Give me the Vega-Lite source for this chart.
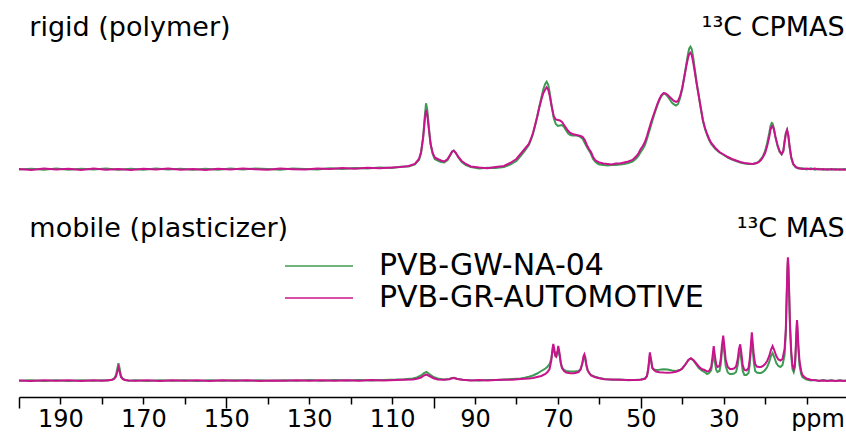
{
"$schema": "https://vega.github.io/schema/vega-lite/v6.json",
"padding": {"left": 15, "right": 2, "top": 0, "bottom": 0},
"background": "white",
"config": {"view": {"stroke": null}, "font": "DejaVu Sans", "concat": {"spacing": 10},
  "legend": {"symbolType": "M-5,0H5", "symbolSize": 185, "symbolStrokeWidth": 1.6, "labelFontSize": 30, "labelFont": "DejaVu Sans", "labelColor": "black", "labelOffset": 45, "rowPadding": 2, "padding": 0, "labelLimit": 500}},
"resolve": {"scale": {"x": "shared", "y": "independent", "color": "shared"}},
"datasets": {
"cp": [
{"s":"g","p":200,"i":0.5},{"s":"g","p":197,"i":1.2},{"s":"g","p":194,"i":0.3},{"s":"g","p":191,"i":1.4},{"s":"g","p":188,"i":0.2},{"s":"g","p":185,"i":1.2},{"s":"g","p":182,"i":0.4},{"s":"g","p":179,"i":1.5},{"s":"g","p":176,"i":0.2},{"s":"g","p":173,"i":1.3},{"s":"g","p":170,"i":0.3},{"s":"g","p":167,"i":1.4},{"s":"g","p":164,"i":0.4},{"s":"g","p":161,"i":1.3},{"s":"g","p":158,"i":0.2},{"s":"g","p":155,"i":1.2},{"s":"g","p":152,"i":0.3},{"s":"g","p":149,"i":1.5},{"s":"g","p":146,"i":0.4},{"s":"g","p":143,"i":1.4},{"s":"g","p":140,"i":1},{"s":"g","p":137,"i":0.3},{"s":"g","p":134,"i":1.5},{"s":"g","p":131,"i":1},{"s":"g","p":128,"i":0.4},{"s":"g","p":125,"i":1.8},{"s":"g","p":122,"i":1},{"s":"g","p":119,"i":2},{"s":"g","p":116,"i":1.4},{"s":"g","p":113,"i":2.5},{"s":"g","p":110,"i":2},{"s":"g","p":108,"i":3.2},{"s":"g","p":106,"i":3.5},{"s":"g","p":104.5,"i":5.5},{"s":"g","p":103.5,"i":10},{"s":"g","p":103,"i":17},{"s":"g","p":102.5,"i":33},{"s":"g","p":102.1,"i":54},{"s":"g","p":101.8,"i":66.7},{"s":"g","p":101.5,"i":60},{"s":"g","p":101.1,"i":42},{"s":"g","p":100.7,"i":26},{"s":"g","p":100.2,"i":16},{"s":"g","p":99.7,"i":11},{"s":"g","p":99,"i":9.5},{"s":"g","p":98.2,"i":8},{"s":"g","p":97.4,"i":7.5},{"s":"g","p":96.6,"i":10},{"s":"g","p":96,"i":14.5},{"s":"g","p":95.5,"i":18.5},{"s":"g","p":95.1,"i":19.5},{"s":"g","p":94.6,"i":17},{"s":"g","p":94,"i":12.5},{"s":"g","p":93.2,"i":8},{"s":"g","p":92.2,"i":5},{"s":"g","p":91,"i":3},{"s":"g","p":89,"i":1.5},{"s":"g","p":87,"i":2.2},{"s":"g","p":85,"i":2},{"s":"g","p":83,"i":3},{"s":"g","p":81.5,"i":5.5},{"s":"g","p":80,"i":9},{"s":"g","p":79,"i":14},{"s":"g","p":78,"i":19},{"s":"g","p":77,"i":25},{"s":"g","p":76.5,"i":30},{"s":"g","p":76,"i":36},{"s":"g","p":75.5,"i":44},{"s":"g","p":75,"i":53},{"s":"g","p":74.5,"i":63},{"s":"g","p":74,"i":72},{"s":"g","p":73.5,"i":81},{"s":"g","p":73,"i":86.5},{"s":"g","p":72.7,"i":88.3},{"s":"g","p":72.3,"i":85},{"s":"g","p":72,"i":78},{"s":"g","p":71.5,"i":64},{"s":"g","p":71,"i":52},{"s":"g","p":70.5,"i":46},{"s":"g","p":70,"i":44},{"s":"g","p":69.5,"i":44.5},{"s":"g","p":69,"i":45},{"s":"g","p":68.5,"i":43},{"s":"g","p":68,"i":39.5},{"s":"g","p":67.5,"i":36.5},{"s":"g","p":67,"i":35},{"s":"g","p":66.5,"i":34.5},{"s":"g","p":66,"i":34.5},{"s":"g","p":65.5,"i":34.5},{"s":"g","p":65,"i":34},{"s":"g","p":64.5,"i":33},{"s":"g","p":64,"i":31},{"s":"g","p":63.5,"i":27},{"s":"g","p":63,"i":23},{"s":"g","p":62.5,"i":19.5},{"s":"g","p":62,"i":16},{"s":"g","p":61.5,"i":11},{"s":"g","p":61,"i":8.5},{"s":"g","p":60.5,"i":6.5},{"s":"g","p":60,"i":5.5},{"s":"g","p":59,"i":5},{"s":"g","p":58,"i":4.5},{"s":"g","p":57,"i":5},{"s":"g","p":56,"i":5},{"s":"g","p":55,"i":5.5},{"s":"g","p":54,"i":6},{"s":"g","p":53,"i":7},{"s":"g","p":52,"i":8.5},{"s":"g","p":51.5,"i":10},{"s":"g","p":51,"i":12},{"s":"g","p":50.5,"i":14.5},{"s":"g","p":50,"i":18},{"s":"g","p":49.5,"i":21},{"s":"g","p":49,"i":25},{"s":"g","p":48.5,"i":31},{"s":"g","p":48,"i":38},{"s":"g","p":47.5,"i":45},{"s":"g","p":47,"i":52},{"s":"g","p":46.5,"i":58.5},{"s":"g","p":46,"i":64.5},{"s":"g","p":45.5,"i":70},{"s":"g","p":45,"i":74},{"s":"g","p":44.5,"i":76.5},{"s":"g","p":44,"i":76},{"s":"g","p":43.5,"i":73.5},{"s":"g","p":43,"i":70.5},{"s":"g","p":42.5,"i":67.5},{"s":"g","p":42,"i":65.5},{"s":"g","p":41.5,"i":64.5},{"s":"g","p":41,"i":66},{"s":"g","p":40.5,"i":72},{"s":"g","p":40,"i":81},{"s":"g","p":39.5,"i":93},{"s":"g","p":39,"i":106},{"s":"g","p":38.6,"i":116},{"s":"g","p":38.3,"i":121.5},{"s":"g","p":38,"i":123.3},{"s":"g","p":37.7,"i":121},{"s":"g","p":37.4,"i":114},{"s":"g","p":37,"i":102},{"s":"g","p":36.5,"i":87},{"s":"g","p":36,"i":74},{"s":"g","p":35.5,"i":61},{"s":"g","p":35,"i":49},{"s":"g","p":34.5,"i":41},{"s":"g","p":34,"i":35},{"s":"g","p":33.5,"i":30},{"s":"g","p":33,"i":26},{"s":"g","p":32,"i":21},{"s":"g","p":31,"i":17.5},{"s":"g","p":30,"i":15},{"s":"g","p":29,"i":12.5},{"s":"g","p":28,"i":10.5},{"s":"g","p":27,"i":9},{"s":"g","p":26,"i":7.5},{"s":"g","p":25,"i":6.5},{"s":"g","p":24,"i":6},{"s":"g","p":23,"i":6},{"s":"g","p":22,"i":7},{"s":"g","p":21.5,"i":8.5},{"s":"g","p":21,"i":11},{"s":"g","p":20.5,"i":14},{"s":"g","p":20,"i":19},{"s":"g","p":19.5,"i":27},{"s":"g","p":19,"i":37},{"s":"g","p":18.7,"i":44},{"s":"g","p":18.4,"i":47},{"s":"g","p":18.2,"i":46.5},{"s":"g","p":17.9,"i":42},{"s":"g","p":17.5,"i":33},{"s":"g","p":17,"i":24},{"s":"g","p":16.5,"i":18},{"s":"g","p":16,"i":15.5},{"s":"g","p":15.6,"i":19},{"s":"g","p":15.3,"i":29},{"s":"g","p":15,"i":37},{"s":"g","p":14.7,"i":40},{"s":"g","p":14.4,"i":34},{"s":"g","p":14.1,"i":23},{"s":"g","p":13.7,"i":12},{"s":"g","p":13.2,"i":5.5},{"s":"g","p":12.6,"i":2.5},{"s":"g","p":12,"i":1.5},{"s":"g","p":11,"i":1.8},{"s":"g","p":10,"i":0.6},{"s":"g","p":9,"i":1.6},{"s":"g","p":8,"i":0.4},{"s":"g","p":7,"i":1.2},{"s":"g","p":6,"i":0.2},{"s":"g","p":5,"i":1},{"s":"g","p":4,"i":0.3},{"s":"g","p":3,"i":1},{"s":"g","p":2,"i":0.2},{"s":"g","p":1,"i":1},{"s":"g","p":0,"i":0.3},
{"s":"m","p":200,"i":1},{"s":"m","p":197,"i":0},{"s":"m","p":194,"i":1.5},{"s":"m","p":191,"i":0.5},{"s":"m","p":188,"i":1.2},{"s":"m","p":185,"i":0},{"s":"m","p":182,"i":1.5},{"s":"m","p":179,"i":0.3},{"s":"m","p":176,"i":1},{"s":"m","p":173,"i":0},{"s":"m","p":170,"i":1.2},{"s":"m","p":167,"i":0.4},{"s":"m","p":164,"i":1.5},{"s":"m","p":161,"i":0.3},{"s":"m","p":158,"i":1},{"s":"m","p":155,"i":0},{"s":"m","p":152,"i":1.2},{"s":"m","p":149,"i":0.5},{"s":"m","p":146,"i":1.5},{"s":"m","p":143,"i":0.8},{"s":"m","p":140,"i":0.3},{"s":"m","p":137,"i":1.4},{"s":"m","p":134,"i":0.8},{"s":"m","p":131,"i":0.4},{"s":"m","p":128,"i":1.5},{"s":"m","p":125,"i":1},{"s":"m","p":122,"i":2},{"s":"m","p":119,"i":1.2},{"s":"m","p":116,"i":2.2},{"s":"m","p":113,"i":1.8},{"s":"m","p":110,"i":2.5},{"s":"m","p":108,"i":3},{"s":"m","p":106,"i":4},{"s":"m","p":104.5,"i":6},{"s":"m","p":103.5,"i":11},{"s":"m","p":103,"i":18},{"s":"m","p":102.5,"i":32},{"s":"m","p":102.1,"i":50},{"s":"m","p":101.8,"i":60},{"s":"m","p":101.5,"i":55},{"s":"m","p":101.1,"i":40},{"s":"m","p":100.7,"i":26},{"s":"m","p":100.2,"i":17},{"s":"m","p":99.7,"i":12.5},{"s":"m","p":99,"i":11},{"s":"m","p":98.2,"i":9.5},{"s":"m","p":97.4,"i":8.5},{"s":"m","p":96.6,"i":11},{"s":"m","p":96,"i":15},{"s":"m","p":95.5,"i":18.5},{"s":"m","p":95.1,"i":19.3},{"s":"m","p":94.6,"i":17},{"s":"m","p":94,"i":13},{"s":"m","p":93.2,"i":9},{"s":"m","p":92.2,"i":6},{"s":"m","p":91,"i":3.5},{"s":"m","p":89,"i":2.5},{"s":"m","p":87,"i":1.7},{"s":"m","p":85,"i":3},{"s":"m","p":83,"i":4},{"s":"m","p":81.5,"i":7},{"s":"m","p":80,"i":11},{"s":"m","p":79,"i":16},{"s":"m","p":78,"i":21},{"s":"m","p":77,"i":26},{"s":"m","p":76.5,"i":31},{"s":"m","p":76,"i":37},{"s":"m","p":75.5,"i":45},{"s":"m","p":75,"i":53},{"s":"m","p":74.5,"i":62},{"s":"m","p":74,"i":70},{"s":"m","p":73.5,"i":77},{"s":"m","p":73,"i":81},{"s":"m","p":72.7,"i":82.7},{"s":"m","p":72.3,"i":80},{"s":"m","p":72,"i":75},{"s":"m","p":71.5,"i":64},{"s":"m","p":71,"i":54},{"s":"m","p":70.5,"i":50.5},{"s":"m","p":70,"i":50},{"s":"m","p":69.5,"i":49.5},{"s":"m","p":69,"i":48},{"s":"m","p":68.5,"i":45},{"s":"m","p":68,"i":42},{"s":"m","p":67.5,"i":39},{"s":"m","p":67,"i":37},{"s":"m","p":66.5,"i":36},{"s":"m","p":66,"i":35.5},{"s":"m","p":65.5,"i":35},{"s":"m","p":65,"i":34.5},{"s":"m","p":64.5,"i":34},{"s":"m","p":64,"i":33},{"s":"m","p":63.5,"i":30},{"s":"m","p":63,"i":25},{"s":"m","p":62.5,"i":21},{"s":"m","p":62,"i":18},{"s":"m","p":61.5,"i":13},{"s":"m","p":61,"i":10},{"s":"m","p":60.5,"i":8.5},{"s":"m","p":60,"i":7.5},{"s":"m","p":59,"i":6.5},{"s":"m","p":58,"i":6},{"s":"m","p":57,"i":5.5},{"s":"m","p":56,"i":6.5},{"s":"m","p":55,"i":6.5},{"s":"m","p":54,"i":7.5},{"s":"m","p":53,"i":8.5},{"s":"m","p":52,"i":10},{"s":"m","p":51.5,"i":12},{"s":"m","p":51,"i":14},{"s":"m","p":50.5,"i":17},{"s":"m","p":50,"i":21},{"s":"m","p":49.5,"i":24},{"s":"m","p":49,"i":28},{"s":"m","p":48.5,"i":34},{"s":"m","p":48,"i":41},{"s":"m","p":47.5,"i":48},{"s":"m","p":47,"i":54},{"s":"m","p":46.5,"i":60},{"s":"m","p":46,"i":66},{"s":"m","p":45.5,"i":71},{"s":"m","p":45,"i":75},{"s":"m","p":44.5,"i":77},{"s":"m","p":44,"i":76.5},{"s":"m","p":43.5,"i":75},{"s":"m","p":43,"i":73},{"s":"m","p":42.5,"i":71},{"s":"m","p":42,"i":69},{"s":"m","p":41.5,"i":68},{"s":"m","p":41,"i":69},{"s":"m","p":40.5,"i":74},{"s":"m","p":40,"i":82},{"s":"m","p":39.5,"i":93},{"s":"m","p":39,"i":104},{"s":"m","p":38.6,"i":112},{"s":"m","p":38.3,"i":116},{"s":"m","p":38,"i":117.3},{"s":"m","p":37.7,"i":115},{"s":"m","p":37.4,"i":109},{"s":"m","p":37,"i":99},{"s":"m","p":36.5,"i":86},{"s":"m","p":36,"i":74},{"s":"m","p":35.5,"i":62},{"s":"m","p":35,"i":50},{"s":"m","p":34.5,"i":42},{"s":"m","p":34,"i":36},{"s":"m","p":33.5,"i":31},{"s":"m","p":33,"i":27},{"s":"m","p":32,"i":22},{"s":"m","p":31,"i":18},{"s":"m","p":30,"i":15.5},{"s":"m","p":29,"i":13},{"s":"m","p":28,"i":11},{"s":"m","p":27,"i":9.5},{"s":"m","p":26,"i":8},{"s":"m","p":25,"i":7},{"s":"m","p":24,"i":6.5},{"s":"m","p":23,"i":6},{"s":"m","p":22,"i":7},{"s":"m","p":21.5,"i":8},{"s":"m","p":21,"i":10},{"s":"m","p":20.5,"i":13},{"s":"m","p":20,"i":17},{"s":"m","p":19.5,"i":24},{"s":"m","p":19,"i":33},{"s":"m","p":18.7,"i":40},{"s":"m","p":18.4,"i":43.5},{"s":"m","p":18.2,"i":44},{"s":"m","p":17.9,"i":41},{"s":"m","p":17.5,"i":33},{"s":"m","p":17,"i":25},{"s":"m","p":16.5,"i":19},{"s":"m","p":16,"i":16},{"s":"m","p":15.6,"i":19},{"s":"m","p":15.3,"i":28},{"s":"m","p":15,"i":36},{"s":"m","p":14.7,"i":40},{"s":"m","p":14.4,"i":35},{"s":"m","p":14.1,"i":24},{"s":"m","p":13.7,"i":13},{"s":"m","p":13.2,"i":6},{"s":"m","p":12.6,"i":3},{"s":"m","p":12,"i":2},{"s":"m","p":11,"i":1},{"s":"m","p":10,"i":1.5},{"s":"m","p":9,"i":0.8},{"s":"m","p":8,"i":1.5},{"s":"m","p":7,"i":0.5},{"s":"m","p":6,"i":1},{"s":"m","p":5,"i":0.3},{"s":"m","p":4,"i":1},{"s":"m","p":3,"i":0.2},{"s":"m","p":2,"i":0.8},{"s":"m","p":1,"i":0.3},{"s":"m","p":0,"i":0.5}
],
"mas": [
{"s":"g","p":200,"i":0.2},{"s":"g","p":197,"i":0.7},{"s":"g","p":194,"i":0},{"s":"g","p":191,"i":0.8},{"s":"g","p":188,"i":0.1},{"s":"g","p":185,"i":0.7},{"s":"g","p":182,"i":0.2},{"s":"g","p":180,"i":0.8},{"s":"g","p":178.5,"i":0.4},{"s":"g","p":177.5,"i":1.4},{"s":"g","p":177,"i":2.8},{"s":"g","p":176.6,"i":6},{"s":"g","p":176.3,"i":12},{"s":"g","p":176,"i":17.7},{"s":"g","p":175.7,"i":12},{"s":"g","p":175.4,"i":5},{"s":"g","p":175,"i":2.5},{"s":"g","p":174.5,"i":1.2},{"s":"g","p":173.5,"i":0.3},{"s":"g","p":172,"i":0.8},{"s":"g","p":169,"i":0.1},{"s":"g","p":166,"i":0.8},{"s":"g","p":163,"i":0.2},{"s":"g","p":160,"i":0.8},{"s":"g","p":157,"i":0.1},{"s":"g","p":154,"i":0.7},{"s":"g","p":151,"i":0.2},{"s":"g","p":148,"i":0.8},{"s":"g","p":145,"i":0.2},{"s":"g","p":142,"i":0.7},{"s":"g","p":139,"i":0.2},{"s":"g","p":136,"i":0.8},{"s":"g","p":133,"i":0.2},{"s":"g","p":130,"i":0.9},{"s":"g","p":127,"i":0.3},{"s":"g","p":124,"i":0.9},{"s":"g","p":121,"i":0.4},{"s":"g","p":118,"i":1},{"s":"g","p":115,"i":0.6},{"s":"g","p":112,"i":1.1},{"s":"g","p":109,"i":1.4},{"s":"g","p":107,"i":1.8},{"s":"g","p":105,"i":2.5},{"s":"g","p":104,"i":3.5},{"s":"g","p":103,"i":5.5},{"s":"g","p":102.3,"i":8},{"s":"g","p":101.7,"i":9},{"s":"g","p":101,"i":7},{"s":"g","p":100,"i":4},{"s":"g","p":99,"i":2.5},{"s":"g","p":97.5,"i":1.6},{"s":"g","p":96.2,"i":2},{"s":"g","p":95.5,"i":3},{"s":"g","p":95,"i":3.2},{"s":"g","p":94.3,"i":2.2},{"s":"g","p":93,"i":1.3},{"s":"g","p":91,"i":0.8},{"s":"g","p":89,"i":0.6},{"s":"g","p":87,"i":1.1},{"s":"g","p":85,"i":1},{"s":"g","p":83,"i":1.5},{"s":"g","p":81,"i":2},{"s":"g","p":79,"i":2.6},{"s":"g","p":78,"i":3.2},{"s":"g","p":77,"i":4.3},{"s":"g","p":76,"i":5.5},{"s":"g","p":75,"i":7.5},{"s":"g","p":74,"i":10},{"s":"g","p":73,"i":12.5},{"s":"g","p":72.5,"i":14.3},{"s":"g","p":72,"i":17},{"s":"g","p":71.6,"i":22},{"s":"g","p":71.3,"i":29},{"s":"g","p":71.1,"i":32.5},{"s":"g","p":70.9,"i":30},{"s":"g","p":70.6,"i":25.5},{"s":"g","p":70.4,"i":24.5},{"s":"g","p":70.1,"i":28},{"s":"g","p":69.9,"i":31},{"s":"g","p":69.6,"i":26},{"s":"g","p":69.3,"i":18.5},{"s":"g","p":69,"i":13.5},{"s":"g","p":68.5,"i":11},{"s":"g","p":68,"i":10},{"s":"g","p":67,"i":9.5},{"s":"g","p":66,"i":9.5},{"s":"g","p":65,"i":10},{"s":"g","p":64.5,"i":12},{"s":"g","p":64.1,"i":17},{"s":"g","p":63.8,"i":23},{"s":"g","p":63.6,"i":24},{"s":"g","p":63.4,"i":22},{"s":"g","p":63.1,"i":15},{"s":"g","p":62.8,"i":10.5},{"s":"g","p":62.4,"i":7.8},{"s":"g","p":62,"i":6},{"s":"g","p":61,"i":4.2},{"s":"g","p":60,"i":3},{"s":"g","p":58.8,"i":2},{"s":"g","p":57,"i":1.3},{"s":"g","p":55,"i":1.5},{"s":"g","p":53,"i":0.8},{"s":"g","p":51,"i":1.2},{"s":"g","p":50,"i":1.5},{"s":"g","p":49,"i":2.5},{"s":"g","p":48.5,"i":5},{"s":"g","p":48.2,"i":11},{"s":"g","p":47.8,"i":26},{"s":"g","p":47.5,"i":20},{"s":"g","p":47.2,"i":13},{"s":"g","p":46.8,"i":11.5},{"s":"g","p":46.3,"i":11},{"s":"g","p":45.5,"i":11.2},{"s":"g","p":44.5,"i":11.7},{"s":"g","p":43.5,"i":11.5},{"s":"g","p":42.5,"i":10.5},{"s":"g","p":41.5,"i":10},{"s":"g","p":40.5,"i":11},{"s":"g","p":40,"i":12.5},{"s":"g","p":39.5,"i":15},{"s":"g","p":39,"i":18},{"s":"g","p":38.5,"i":21},{"s":"g","p":37.9,"i":22.5},{"s":"g","p":37.3,"i":20.5},{"s":"g","p":36.7,"i":17},{"s":"g","p":36,"i":13},{"s":"g","p":35.3,"i":10.5},{"s":"g","p":34.6,"i":9},{"s":"g","p":34,"i":7},{"s":"g","p":33.5,"i":8},{"s":"g","p":33,"i":11},{"s":"g","p":32.7,"i":19},{"s":"g","p":32.4,"i":28},{"s":"g","p":32.1,"i":19},{"s":"g","p":31.8,"i":11},{"s":"g","p":31.5,"i":9},{"s":"g","p":31,"i":10},{"s":"g","p":30.7,"i":17},{"s":"g","p":30.4,"i":30},{"s":"g","p":30.1,"i":38},{"s":"g","p":29.8,"i":27},{"s":"g","p":29.5,"i":15},{"s":"g","p":29,"i":8.5},{"s":"g","p":28.5,"i":7},{"s":"g","p":28,"i":7},{"s":"g","p":27.5,"i":7.5},{"s":"g","p":27,"i":9},{"s":"g","p":26.6,"i":16},{"s":"g","p":26.3,"i":26},{"s":"g","p":26,"i":30},{"s":"g","p":25.7,"i":20},{"s":"g","p":25.4,"i":10},{"s":"g","p":25,"i":6},{"s":"g","p":24.5,"i":6},{"s":"g","p":24,"i":8},{"s":"g","p":23.7,"i":16},{"s":"g","p":23.4,"i":32},{"s":"g","p":23.2,"i":42},{"s":"g","p":23,"i":32},{"s":"g","p":22.7,"i":18},{"s":"g","p":22.4,"i":10},{"s":"g","p":22,"i":8.5},{"s":"g","p":21.5,"i":8},{"s":"g","p":21,"i":8},{"s":"g","p":20.5,"i":9},{"s":"g","p":20,"i":11},{"s":"g","p":19.5,"i":14},{"s":"g","p":19,"i":19},{"s":"g","p":18.6,"i":25},{"s":"g","p":18.2,"i":28},{"s":"g","p":17.8,"i":24},{"s":"g","p":17.3,"i":18},{"s":"g","p":16.8,"i":15},{"s":"g","p":16.3,"i":14},{"s":"g","p":15.8,"i":16},{"s":"g","p":15.3,"i":26},{"s":"g","p":15,"i":48},{"s":"g","p":14.8,"i":82},{"s":"g","p":14.6,"i":112},{"s":"g","p":14.5,"i":120},{"s":"g","p":14.4,"i":114},{"s":"g","p":14.2,"i":86},{"s":"g","p":14,"i":54},{"s":"g","p":13.7,"i":26},{"s":"g","p":13.4,"i":12},{"s":"g","p":13.1,"i":9},{"s":"g","p":12.8,"i":14},{"s":"g","p":12.6,"i":30},{"s":"g","p":12.4,"i":50},{"s":"g","p":12.3,"i":55},{"s":"g","p":12.2,"i":50},{"s":"g","p":12,"i":33},{"s":"g","p":11.7,"i":16},{"s":"g","p":11.3,"i":7},{"s":"g","p":11,"i":4},{"s":"g","p":10.5,"i":2.5},{"s":"g","p":10,"i":1.5},{"s":"g","p":9,"i":0.4},{"s":"g","p":8,"i":1.1},{"s":"g","p":7,"i":0.1},{"s":"g","p":6,"i":0.9},{"s":"g","p":5,"i":0.2},{"s":"g","p":4,"i":0.8},{"s":"g","p":3,"i":0.1},{"s":"g","p":2,"i":0.7},{"s":"g","p":1,"i":0.2},{"s":"g","p":0,"i":0.6},
{"s":"m","p":200,"i":0.5},{"s":"m","p":197,"i":0},{"s":"m","p":194,"i":0.8},{"s":"m","p":191,"i":0.2},{"s":"m","p":188,"i":0.7},{"s":"m","p":185,"i":0},{"s":"m","p":182,"i":0.8},{"s":"m","p":180,"i":0.2},{"s":"m","p":178.5,"i":0.8},{"s":"m","p":177.5,"i":1.2},{"s":"m","p":177,"i":2.2},{"s":"m","p":176.6,"i":4.5},{"s":"m","p":176.3,"i":9},{"s":"m","p":176,"i":13.7},{"s":"m","p":175.7,"i":9},{"s":"m","p":175.4,"i":4},{"s":"m","p":175,"i":2},{"s":"m","p":174.5,"i":1},{"s":"m","p":173.5,"i":0.6},{"s":"m","p":172,"i":0.2},{"s":"m","p":169,"i":0.8},{"s":"m","p":166,"i":0.1},{"s":"m","p":163,"i":0.7},{"s":"m","p":160,"i":0.2},{"s":"m","p":157,"i":0.8},{"s":"m","p":154,"i":0.1},{"s":"m","p":151,"i":0.7},{"s":"m","p":148,"i":0.2},{"s":"m","p":145,"i":0.8},{"s":"m","p":142,"i":0.1},{"s":"m","p":139,"i":0.6},{"s":"m","p":136,"i":0.2},{"s":"m","p":133,"i":0.8},{"s":"m","p":130,"i":0.2},{"s":"m","p":127,"i":0.7},{"s":"m","p":124,"i":0.3},{"s":"m","p":121,"i":0.8},{"s":"m","p":118,"i":0.3},{"s":"m","p":115,"i":0.9},{"s":"m","p":112,"i":0.5},{"s":"m","p":109,"i":1},{"s":"m","p":107,"i":1.2},{"s":"m","p":105,"i":1.5},{"s":"m","p":104,"i":2.2},{"s":"m","p":103,"i":3.5},{"s":"m","p":102.3,"i":5.5},{"s":"m","p":101.7,"i":6.5},{"s":"m","p":101,"i":5},{"s":"m","p":100,"i":2.8},{"s":"m","p":99,"i":1.6},{"s":"m","p":97.5,"i":1.2},{"s":"m","p":96.2,"i":1.8},{"s":"m","p":95.5,"i":2.7},{"s":"m","p":95,"i":3},{"s":"m","p":94.3,"i":2},{"s":"m","p":93,"i":1.2},{"s":"m","p":91,"i":0.6},{"s":"m","p":89,"i":1},{"s":"m","p":87,"i":0.5},{"s":"m","p":85,"i":1},{"s":"m","p":83,"i":1.2},{"s":"m","p":81,"i":1.3},{"s":"m","p":79,"i":2},{"s":"m","p":77,"i":2.6},{"s":"m","p":76,"i":3},{"s":"m","p":75,"i":4},{"s":"m","p":74,"i":5},{"s":"m","p":73,"i":7},{"s":"m","p":72.5,"i":9},{"s":"m","p":72,"i":12},{"s":"m","p":71.6,"i":20},{"s":"m","p":71.3,"i":32},{"s":"m","p":71.1,"i":37},{"s":"m","p":70.9,"i":33},{"s":"m","p":70.6,"i":25},{"s":"m","p":70.4,"i":24.3},{"s":"m","p":70.1,"i":30},{"s":"m","p":69.9,"i":35},{"s":"m","p":69.6,"i":28},{"s":"m","p":69.3,"i":18},{"s":"m","p":69,"i":13},{"s":"m","p":68.5,"i":10},{"s":"m","p":68,"i":8.5},{"s":"m","p":67,"i":7.7},{"s":"m","p":66,"i":7.8},{"s":"m","p":65,"i":9},{"s":"m","p":64.5,"i":11.5},{"s":"m","p":64.1,"i":18},{"s":"m","p":63.8,"i":25},{"s":"m","p":63.6,"i":26.7},{"s":"m","p":63.4,"i":24},{"s":"m","p":63.1,"i":16},{"s":"m","p":62.8,"i":10.5},{"s":"m","p":62.4,"i":7.7},{"s":"m","p":62,"i":5.5},{"s":"m","p":61,"i":3.8},{"s":"m","p":60,"i":2.8},{"s":"m","p":58.8,"i":1.7},{"s":"m","p":57,"i":1.5},{"s":"m","p":55,"i":1.2},{"s":"m","p":53,"i":1},{"s":"m","p":51,"i":1},{"s":"m","p":50,"i":1.3},{"s":"m","p":49,"i":2.2},{"s":"m","p":48.5,"i":5},{"s":"m","p":48.2,"i":12},{"s":"m","p":47.8,"i":28.7},{"s":"m","p":47.5,"i":21},{"s":"m","p":47.2,"i":13},{"s":"m","p":46.8,"i":11},{"s":"m","p":46.3,"i":9.5},{"s":"m","p":45.5,"i":8.8},{"s":"m","p":44.5,"i":8.5},{"s":"m","p":43.5,"i":8.3},{"s":"m","p":42.5,"i":8.6},{"s":"m","p":41.5,"i":9.3},{"s":"m","p":40.5,"i":11},{"s":"m","p":40,"i":12.5},{"s":"m","p":39.5,"i":15},{"s":"m","p":39,"i":18},{"s":"m","p":38.5,"i":21},{"s":"m","p":37.9,"i":22.7},{"s":"m","p":37.3,"i":21},{"s":"m","p":36.7,"i":18},{"s":"m","p":36,"i":14.5},{"s":"m","p":35.3,"i":12},{"s":"m","p":34.6,"i":11},{"s":"m","p":34,"i":9.5},{"s":"m","p":33.5,"i":10},{"s":"m","p":33,"i":14},{"s":"m","p":32.7,"i":24},{"s":"m","p":32.4,"i":35},{"s":"m","p":32.1,"i":25},{"s":"m","p":31.8,"i":16.5},{"s":"m","p":31.5,"i":14},{"s":"m","p":31,"i":15},{"s":"m","p":30.7,"i":22},{"s":"m","p":30.4,"i":36},{"s":"m","p":30.1,"i":45.3},{"s":"m","p":29.8,"i":34},{"s":"m","p":29.5,"i":21},{"s":"m","p":29,"i":14},{"s":"m","p":28.5,"i":12},{"s":"m","p":28,"i":12},{"s":"m","p":27.5,"i":12.5},{"s":"m","p":27,"i":14.5},{"s":"m","p":26.6,"i":22},{"s":"m","p":26.3,"i":32},{"s":"m","p":26,"i":36.7},{"s":"m","p":25.7,"i":27},{"s":"m","p":25.4,"i":16},{"s":"m","p":25,"i":11},{"s":"m","p":24.5,"i":10.5},{"s":"m","p":24,"i":13},{"s":"m","p":23.7,"i":22},{"s":"m","p":23.4,"i":38},{"s":"m","p":23.2,"i":48.7},{"s":"m","p":23,"i":39},{"s":"m","p":22.7,"i":25},{"s":"m","p":22.4,"i":17},{"s":"m","p":22,"i":14.5},{"s":"m","p":21.5,"i":14},{"s":"m","p":21,"i":14},{"s":"m","p":20.5,"i":15},{"s":"m","p":20,"i":17},{"s":"m","p":19.5,"i":20},{"s":"m","p":19,"i":25},{"s":"m","p":18.6,"i":31},{"s":"m","p":18.2,"i":35},{"s":"m","p":17.8,"i":31},{"s":"m","p":17.3,"i":25},{"s":"m","p":16.8,"i":21.5},{"s":"m","p":16.3,"i":20.5},{"s":"m","p":15.8,"i":22},{"s":"m","p":15.3,"i":32},{"s":"m","p":15,"i":52},{"s":"m","p":14.8,"i":85},{"s":"m","p":14.6,"i":115},{"s":"m","p":14.5,"i":123.7},{"s":"m","p":14.4,"i":118},{"s":"m","p":14.2,"i":90},{"s":"m","p":14,"i":58},{"s":"m","p":13.7,"i":30},{"s":"m","p":13.4,"i":16},{"s":"m","p":13.1,"i":12},{"s":"m","p":12.8,"i":17},{"s":"m","p":12.6,"i":34},{"s":"m","p":12.4,"i":55},{"s":"m","p":12.3,"i":61},{"s":"m","p":12.2,"i":56},{"s":"m","p":12,"i":38},{"s":"m","p":11.7,"i":20},{"s":"m","p":11.3,"i":10},{"s":"m","p":11,"i":6},{"s":"m","p":10.5,"i":4},{"s":"m","p":10,"i":2.5},{"s":"m","p":9,"i":1.3},{"s":"m","p":8,"i":0.8},{"s":"m","p":7,"i":0.3},{"s":"m","p":6,"i":0.6},{"s":"m","p":5,"i":0.1},{"s":"m","p":4,"i":0.5},{"s":"m","p":3,"i":0},{"s":"m","p":2,"i":0.4},{"s":"m","p":1,"i":0},{"s":"m","p":0,"i":0.3}
],
"labTopL": [{"p": 197.5, "i": 134, "t": "rigid (polymer)"}],
"labTopR": [{"p": 0.8, "i": 134, "t": "¹³C CPMAS"}],
"labBotL": [{"p": 197.5, "i": 144, "t": "mobile (plasticizer)"}],
"labBotR": [{"p": 0.8, "i": 144, "t": "¹³C MAS"}]
},
"vconcat": [
{
"width": 829, "height": 180,
"layer": [
{"data": {"name": "cp"}, "mark": {"type": "line", "strokeWidth": 2},
 "encoding": {
  "x": {"field": "p", "type": "quantitative", "scale": {"domain": [0, 200], "reverse": true, "nice": false, "zero": false}, "axis": null},
  "y": {"field": "i", "type": "quantitative", "scale": {"domain": [-10, 170], "nice": false, "zero": false}, "axis": null},
  "color": {"field": "s", "type": "nominal", "scale": {"domain": ["g", "m"], "range": ["#3e9b55", "#c8148c"]},
    "legend": {"orient": "none", "legendX": 285, "legendY": 251, "title": null, "labelExpr": "datum.value == 'g' ? 'PVB-GW-NA-04' : 'PVB-GR-AUTOMOTIVE'"}}
 }},
{"data": {"name": "labTopL"}, "mark": {"type": "text", "align": "left", "baseline": "alphabetic", "fontSize": 27, "color": "black", "font": "DejaVu Sans"},
 "encoding": {"x": {"field": "p", "type": "quantitative"}, "y": {"field": "i", "type": "quantitative"}, "text": {"field": "t"}}},
{"data": {"name": "labTopR"}, "mark": {"type": "text", "align": "right", "baseline": "alphabetic", "fontSize": 27, "color": "black", "font": "DejaVu Sans"},
 "encoding": {"x": {"field": "p", "type": "quantitative"}, "y": {"field": "i", "type": "quantitative"}, "text": {"field": "t"}}}
]
},
{
"width": 829, "height": 207,
"layer": [
{"data": {"name": "mas"}, "mark": {"type": "line", "strokeWidth": 2},
 "encoding": {
  "x": {"field": "p", "type": "quantitative", "scale": {"domain": [0, 200], "reverse": true, "nice": false, "zero": false},
    "axis": {"title": null, "values": [200,190,180,170,160,150,140,130,120,110,100,90,80,70,60,50,40,30,20,10,0],
      "labelExpr": "datum.value == 10 ? 'ppm' : ((datum.value % 20 == 10 && datum.value >= 30) ? datum.label : '')",
      "labelFontSize": 24, "labelFont": "DejaVu Sans", "labelColor": "black",
      "labelPadding": {"condition": {"test": "datum.value % 50 == 0", "value": -1}, "value": 3},
      "labelOverlap": false, "labelFlush": false, "labelBound": false,
      "tickSize": {"condition": {"test": "datum.value % 50 == 0", "value": 11}, "value": 7},
      "labelOffset": {"condition": {"test": "datum.value == 10", "value": 11}, "value": 0},
      "tickColor": "black", "tickWidth": 1.5, "domainColor": "black", "domainWidth": 1.5, "grid": false}},
  "y": {"field": "i", "type": "quantitative", "scale": {"domain": [-16, 191], "nice": false, "zero": false}, "axis": null},
  "color": {"field": "s", "type": "nominal", "scale": {"domain": ["g", "m"], "range": ["#3e9b55", "#c8148c"]},
    "legend": {"orient": "none", "legendX": 285, "legendY": 251, "title": null, "labelExpr": "datum.value == 'g' ? 'PVB-GW-NA-04' : 'PVB-GR-AUTOMOTIVE'"}}
 }},
{"data": {"name": "labBotL"}, "mark": {"type": "text", "align": "left", "baseline": "alphabetic", "fontSize": 27, "color": "black", "font": "DejaVu Sans"},
 "encoding": {"x": {"field": "p", "type": "quantitative"}, "y": {"field": "i", "type": "quantitative"}, "text": {"field": "t"}}},
{"data": {"name": "labBotR"}, "mark": {"type": "text", "align": "right", "baseline": "alphabetic", "fontSize": 27, "color": "black", "font": "DejaVu Sans"},
 "encoding": {"x": {"field": "p", "type": "quantitative"}, "y": {"field": "i", "type": "quantitative"}, "text": {"field": "t"}}}
]
}
]
}
